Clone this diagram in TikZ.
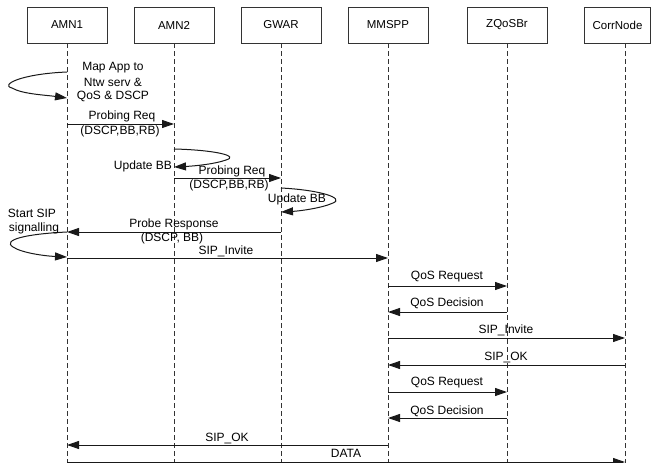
\documentclass[tikz,border=0pt]{standalone}
\usepackage{fontspec}
\setmainfont{Liberation Sans}
\usetikzlibrary{arrows.meta}
\begin{document}
\begin{tikzpicture}[x=1pt,y=-1pt,
  every node/.style={font=\fontsize{12}{14}\selectfont, inner sep=0pt},
  entity/.style={draw=black!80, line width=0.9pt, minimum width=80pt, minimum height=36pt, fill=white},
  lifeline/.style={draw=black!80, line width=0.9pt, dash pattern=on 5pt off 3pt},
  msg/.style={draw=black!90, line width=1pt, -{Triangle[length=12pt,width=8pt]}},
  lbl/.style={align=center}]
\useasboundingbox (0,0) rectangle (654,463);

% participants
\node[entity, font=\fontsize{11.5}{14}\selectfont] (AMN1) at (67,25) {AMN1};
\node[entity, font=\fontsize{11.5}{14}\selectfont] (AMN2) at (174,25) {AMN2};
\node[entity, font=\fontsize{11.5}{14}\selectfont] (GWAR) at (281,25) {GWAR};
\node[entity, font=\fontsize{11.5}{14}\selectfont] (MMSPP) at (388,25) {MMSPP};
\node[entity, font=\fontsize{11.5}{14}\selectfont] (ZQoSBr) at (507,25) {ZQoSBr};
\node[entity, font=\fontsize{11.5}{14}\selectfont, minimum width=66pt] (CorrNode) at (617.5,25) {CorrNode};

% lifelines
\coordinate (AMN1b) at (67,463);
\coordinate (AMN2b) at (174,463);
\coordinate (GWARb) at (281,463);
\coordinate (MMSPPb) at (388,463);
\coordinate (ZQoSBrb) at (507,463);
\coordinate (CorrNodeb) at (625,463);
\coordinate (CorrNodet) at (625,43);
\draw[lifeline] (AMN1.south) -- (AMN1b);
\draw[lifeline] (AMN2.south) -- (AMN2b);
\draw[lifeline] (GWAR.south) -- (GWARb);
\draw[lifeline] (MMSPP.south) -- (MMSPPb);
\draw[lifeline] (ZQoSBr.south) -- (ZQoSBrb);
\draw[lifeline] (CorrNodet) -- (CorrNodeb);

% self messages
\draw[msg] (AMN1b |- 0,72) .. controls (20,74) and (0,85) .. (12,88)
  .. controls (22,94) and (45,95) .. (AMN1b |- 0,98);
\draw[msg] (AMN2b |- 0,149) .. controls (215,150) and (240,156) .. (226,160)
  .. controls (215,164) and (195,166) .. (AMN2b |- 0,167);
\draw[msg] (GWARb |- 0,188) .. controls (320,190) and (345,198) .. (333,203)
  .. controls (322,208) and (300,211) .. (GWARb |- 0,212);
\draw[msg] (AMN1b |- 0,232) .. controls (25,234) and (2,240) .. (13,247)
  .. controls (22,253) and (45,256) .. (AMN1b |- 0,257);

% messages between participants
\draw[msg] (AMN1b |- 0,124) -- (AMN2b |- 0,124);
\draw[msg] (AMN2b |- 0,178) -- (GWARb |- 0,178);
\draw[msg] (GWARb |- 0,232) -- (AMN1b |- 0,232);
\draw[msg] (AMN1b |- 0,258) -- (MMSPPb |- 0,258);
\draw[msg] (MMSPPb |- 0,286) -- (ZQoSBrb |- 0,286);
\draw[msg] (ZQoSBrb |- 0,312) -- (MMSPPb |- 0,312);
\draw[msg] (MMSPPb |- 0,338) -- (CorrNodeb |- 0,338);
\draw[msg] (CorrNodeb |- 0,365) -- (MMSPPb |- 0,365);
\draw[msg] (MMSPPb |- 0,392) -- (ZQoSBrb |- 0,392);
\draw[msg] (ZQoSBrb |- 0,418) -- (MMSPPb |- 0,418);
\draw[msg] (MMSPPb |- 0,445) -- (AMN1b |- 0,445);
\draw[msg] (AMN1b |- 0,462) -- (CorrNodeb |- 0,462);

% labels
\node[lbl] (t1) at (113,68) {Map App to};
\node[lbl] (t2) at (113,82) {Ntw serv \&};
\node[lbl] (t3) at (113,96) {QoS \& DSCP};
\node[lbl] (t4) at (122,116) {Probing Req};
\node[lbl] (t5) at (120,131) {(DSCP,BB,RB)};
\node[lbl] (t6) at (143,166) {Update BB};
\node[lbl] (t7) at (232,171) {Probing Req};
\node[lbl] (t8) at (229,185) {(DSCP,BB,RB)};
\node[lbl] (t9) at (297,199) {Update BB};
\node[lbl] (t10) at (32,213) {Start SIP};
\node[lbl] (t11) at (34,228) {signalling};
\node[lbl] (t12) at (174,224) {Probe Response};
\node[lbl] (t13) at (172,238) {(DSCP, BB)};
\node[lbl] (t14) at (226,251) {SIP\_Invite};
\node[lbl] (t15) at (447,277) {QoS Request};
\node[lbl] (t16) at (447,303) {QoS Decision};
\node[lbl] (t17) at (506,330) {SIP\_Invite};
\node[lbl] (t18) at (506,357) {SIP\_OK};
\node[lbl] (t19) at (447,383) {QoS Request};
\node[lbl] (t20) at (447,411) {QoS Decision};
\node[lbl] (t21) at (227,438) {SIP\_OK};
\node[lbl] (t22) at (346,453) {DATA};
\end{tikzpicture}
\end{document}
